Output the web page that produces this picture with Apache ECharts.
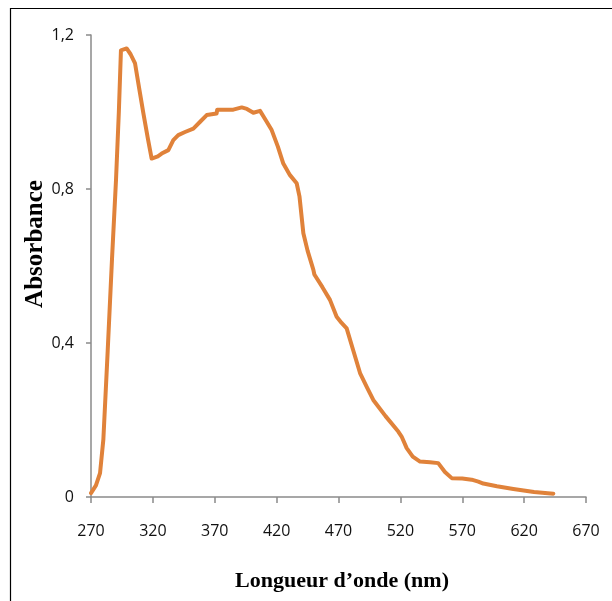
<!DOCTYPE html>
<html>
<head>
<meta charset="utf-8">
<script src="https://cdn.jsdelivr.net/npm/echarts@6/dist/echarts.min.js"></script>
<style>
html,body{margin:0;padding:0;background:#fff;}
#chart{width:612px;height:601px;}
</style>
</head>
<body>
<div id="chart"></div>
<script>
// Wavelength (nm)
var wavelength = [270, 274, 277.3, 280, 283.5, 287, 290.2, 292.5, 294.2, 295, 298.8, 302, 305.6, 309, 312.3, 316, 319, 320.3, 324, 327.1, 332.5, 336.5, 340.5, 346, 352.7, 358, 363.5, 371.5, 372, 385, 391.8, 396, 401.2, 406.6, 411, 416, 421, 425.4, 430.8, 436.2, 438.5, 441.6, 445, 449.7, 450.5, 451, 457, 463.1, 468.5, 472.5, 476.6, 482, 487.4, 493, 498.1, 508, 518.3, 521, 525.1, 530, 535.9, 544, 550.6, 556, 561.5, 570, 577.6, 583, 587, 598, 611.3, 628, 643.6];
// Absorbance
var absorbance = [0.010, 0.030, 0.062, 0.15, 0.38, 0.62, 0.823, 1.0, 1.16, 1.165, 1.165, 1.15, 1.126, 1.06, 0.997, 0.93, 0.879, 0.875, 0.885, 0.892, 0.901, 0.927, 0.940, 0.948, 0.957, 0.974, 0.992, 0.996, 1.006, 1.006, 1.012, 1.008, 0.998, 1.003, 0.98, 0.953, 0.91, 0.866, 0.836, 0.815, 0.78, 0.685, 0.64, 0.59, 0.578, 0.581, 0.545, 0.512, 0.468, 0.452, 0.438, 0.38, 0.322, 0.285, 0.252, 0.21, 0.170, 0.157, 0.127, 0.105, 0.092, 0.090, 0.088, 0.065, 0.049, 0.048, 0.045, 0.040, 0.035, 0.028, 0.021, 0.013, 0.0086];
var xTicks = [270, 320, 370, 420, 470, 520, 570, 620, 670];
var yTicks = [0, 0.4, 0.8, 1.2];
var xTitle = "Longueur d\u2019onde (nm)";
var yTitle = "Absorbance";

var pts = wavelength.map(function (w, i) { return [w, absorbance[i]]; });

var chart = echarts.init(document.getElementById('chart'), null, {renderer: 'canvas'});
var labelFont = {color: '#111111', fontFamily: 'Open Sans', fontSize: 16};
chart.setOption({
  animation: false,
  backgroundColor: '#ffffff',
  grid: {left: 91, top: 35, width: 495, height: 462, containLabel: false},
  xAxis: {
    type: 'value',
    min: xTicks[0], max: xTicks[xTicks.length - 1], interval: 50,
    axisLine: {show: true, lineStyle: {color: '#8a8a8a', width: 1.5}},
    axisTick: {show: true, inside: false, length: 6, lineStyle: {color: '#8a8a8a', width: 1.5}},
    splitLine: {show: false},
    axisLabel: Object.assign({margin: 26}, labelFont)
  },
  yAxis: {
    type: 'value',
    min: yTicks[0], max: yTicks[yTicks.length - 1], interval: 0.4,
    axisLine: {show: true, lineStyle: {color: '#8a8a8a', width: 1.5}},
    axisTick: {show: true, inside: false, length: 5, lineStyle: {color: '#8a8a8a', width: 1.5}},
    splitLine: {show: false},
    axisLabel: Object.assign({margin: 17, formatter: function (v) {
      return (Math.round(v * 10) / 10).toString().replace('.', ',');
    }}, labelFont)
  },
  graphic: [
    {type: 'rect', shape: {x: 10.5, y: 8.5, width: 700, height: 700}, style: {fill: 'none', stroke: '#000', lineWidth: 1.2}, silent: true, z: 0},
    {type: 'text', x: 342, y: 581, style: {text: xTitle, font: 'bold 22px "Liberation Serif"', fill: '#000', align: 'center', verticalAlign: 'middle'}},
    {type: 'text', x: 36, y: 244, rotation: Math.PI / 2, style: {text: yTitle, font: 'bold 25px "Liberation Serif"', fill: '#000', align: 'center', verticalAlign: 'middle'}}
  ],
  series: [{
    type: 'line',
    data: pts,
    showSymbol: false,
    smooth: false,
    lineStyle: {color: '#E0823A', width: 4, join: 'round', cap: 'round'},
    z: 3
  }]
});
</script>
</body>
</html>
